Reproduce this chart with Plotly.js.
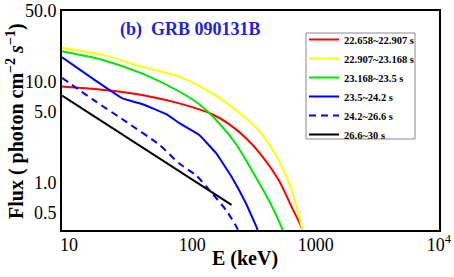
<!DOCTYPE html>
<html>
<head>
<meta charset="utf-8">
<script src="https://cdn.plot.ly/plotly-3.0.1.min.js"></script>
<style>html,body{margin:0;padding:0;background:#fff;}#chart{width:454px;height:277px;}</style>
</head>
<body>
<div id="chart"></div>
<script>
// Series names (legend labels)
const seriesNames = ["22.658~22.907 s", "22.907~23.168 s", "23.168~23.5 s", "23.5~24.2 s", "24.2~26.6 s", "26.6~30 s"];

// Energy (keV) and photon flux values
const redE    = [8.8, 21.4, 45, 78.5, 145, 199, 272, 367, 503, 640, 771, 790];
const redF    = [8.95, 8.16, 7.13, 6.08, 4.75, 3.79, 2.76, 1.84, 1.05, 0.569, 0.354, 0.30];

const yellowE = [8.8, 18.8, 39.5, 78.5, 145, 272, 367, 503, 640, 771, 800];
const yellowF = [21.7, 18.4, 14.0, 11.2, 7.63, 4.33, 3.02, 1.64, 0.835, 0.362, 0.30];

const greenE  = [8.8, 18.8, 39.5, 78.5, 114, 165, 226, 305, 418, 532, 560];
const greenF  = [20.0, 16.4, 12.0, 7.98, 5.96, 3.87, 2.41, 1.31, 0.667, 0.354, 0.30];

const blueE   = [8.8, 15.6, 27.2, 39.5, 61.7, 78.5, 114, 156, 210, 272, 334, 345];
const blueF   = [17.4, 10.7, 6.81, 5.96, 4.75, 3.87, 2.95, 1.95, 1.12, 0.622, 0.354, 0.31];

const dashE   = [8.8, 15.6, 29.4, 54.2, 78.5, 108, 145, 188, 231, 240];
const dashF   = [10.9, 6.66, 3.96, 2.36, 1.54, 1.17, 0.78, 0.531, 0.354, 0.31];

const blackE  = [8.8, 208];
const blackF  = [7.25, 0.60];

// Tick labels
const xTickVals = [10, 100, 1000, 10000];
const xTickText = ["10", "100", "1000", "10<sup>4</sup>"];
const yTickVals = [0.5, 1, 5, 10, 50];
const yTickText = ["0.5", "1.0", "5.0", "10.0", "50.0"];

const serif = "Liberation Serif, Times New Roman, serif";

const traces = [
  {x: redE, y: redF, name: seriesNames[0], line: {color: "#ff0000", width: 2, shape: "spline", smoothing: 0.8}},
  {x: yellowE, y: yellowF, name: seriesNames[1], line: {color: "#ffff00", width: 2, shape: "spline", smoothing: 0.8}},
  {x: greenE, y: greenF, name: seriesNames[2], line: {color: "#00e600", width: 2, shape: "spline", smoothing: 0.8}},
  {x: blueE, y: blueF, name: seriesNames[3], line: {color: "#0000ff", width: 2, shape: "spline", smoothing: 0.3}},
  {x: dashE, y: dashF, name: seriesNames[4], line: {color: "#0000ff", width: 2, dash: "7px,5px", shape: "spline", smoothing: 0.6}},
  {x: blackE, y: blackF, name: seriesNames[5], line: {color: "#000000", width: 2}}
].map(t => Object.assign({type: "scatter", mode: "lines", hoverinfo: "skip"}, t));

// plot area: x 62..439, y 11..230 (px)
const px = v => (v - 62) / 377;
const py = v => (230 - v) / 219;

const layout = {
  width: 454, height: 277,
  margin: {l: 62, r: 15, t: 11, b: 47, pad: 0},
  paper_bgcolor: "#ffffff", plot_bgcolor: "#ffffff",
  font: {family: serif, color: "#000"},
  showlegend: true,
  legend: {
    x: px(304), y: py(25), xanchor: "left", yanchor: "top",
    bgcolor: "rgba(0,0,0,0)", borderwidth: 0,
    font: {family: serif, size: 10.5, weight: "bold", color: "#000"},
    itemwidth: 30, tracegroupgap: 0
  },
  shapes: [{
    type: "rect", xref: "paper", yref: "paper", layer: "above",
    x0: px(306), x1: px(415), y0: py(139), y1: py(33),
    line: {color: "#8a8a8a", width: 1}, fillcolor: "#ffffff"
  }],
  xaxis: {
    type: "log", range: [0.944, 4.0],
    tickvals: xTickVals, ticktext: xTickText,
    ticks: "", showgrid: false, zeroline: false,
    showline: true, mirror: true, linecolor: "#000", linewidth: 2,
    tickfont: {family: serif, size: 18, color: "#000"},
    ticklabelstandoff: -3
  },
  yaxis: {
    type: "log", range: [-0.471, 1.70],
    tickvals: yTickVals, ticktext: yTickText,
    ticks: "", showgrid: false, zeroline: false,
    showline: true, mirror: true, linecolor: "#000", linewidth: 2,
    tickfont: {family: serif, size: 18, color: "#000"}
  },
  annotations: [
    {
      text: "(b)\u00a0 GRB 090131B", xref: "paper", yref: "paper",
      x: px(190), y: py(29), xanchor: "center", yanchor: "middle", showarrow: false,
      font: {family: serif, size: 18, weight: "bold", color: "#1f1fe6"}
    },
    {
      text: "E (keV)", xref: "paper", yref: "paper",
      x: px(245), y: py(258), xanchor: "center", yanchor: "middle", showarrow: false,
      font: {family: serif, size: 20, weight: "bold", color: "#000"}
    },
    {
      text: "Flux ( photon cm<sup>\u22122</sup> <i>s</i><sup>\u22121</sup>)", xref: "paper", yref: "paper",
      x: px(15), y: py(121), xanchor: "center", yanchor: "middle", showarrow: false, textangle: -90,
      font: {family: serif, size: 20, weight: "bold", color: "#000"}
    }
  ]
};

Plotly.newPlot("chart", traces, layout, {staticPlot: true, displayModeBar: false});
</script>
</body>
</html>
